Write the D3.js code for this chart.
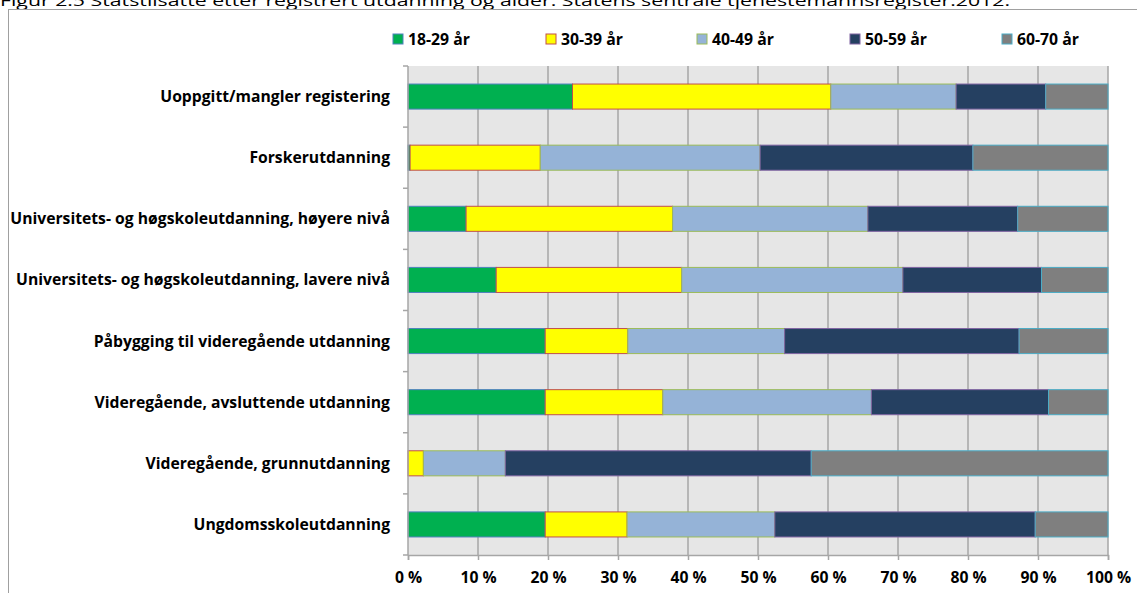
<!DOCTYPE html>
<html><head><meta charset="utf-8">
<script src="https://cdn.jsdelivr.net/npm/d3@7"></script>
<style>
html,body{margin:0;padding:0;background:#fff;overflow:hidden;}
svg{display:block;}
text{font-family:"Open Sans",Lato,sans-serif;}
</style></head>
<body>
<script>
const titleText = "Figur 2.5 Statstilsatte etter registrert utdanning og alder. Statens sentrale tjenestemannsregister.2012.";
const categories = [
  "Uoppgitt/mangler registering",
  "Forskerutdanning",
  "Universitets- og høgskoleutdanning, høyere nivå",
  "Universitets- og høgskoleutdanning, lavere nivå",
  "Påbygging til videregående utdanning",
  "Videregående, avsluttende utdanning",
  "Videregående, grunnutdanning",
  "Ungdomsskoleutdanning"
];
const seriesNames = ["18-29 år", "30-39 år", "40-49 år", "50-59 år", "60-70 år"];
const age18_29 = [23.5, 0.3, 8.3, 12.6, 19.6, 19.6, 0.0, 19.6];
const age30_39 = [36.9, 18.6, 29.5, 26.5, 11.8, 16.8, 2.2, 11.7];
const age40_49 = [17.9, 31.4, 27.9, 31.6, 22.4, 29.8, 11.7, 21.1];
const age50_59 = [12.8, 30.4, 21.4, 19.8, 33.5, 25.3, 43.7, 37.2];
const age60_70 = [8.9, 19.3, 12.9, 9.5, 12.7, 8.5, 42.4, 10.4];
const xTicks = [0, 0.1, 0.2, 0.3, 0.4, 0.5, 0.6, 0.7, 0.8, 0.9, 1.0];

const fills = ["#00b050", "#ffff00", "#95b3d7", "#254061", "#7f7f7f"];
const strokes = ["#4f81bd", "#c0504d", "#9bbb59", "#8064a2", "#4bacc6"];

const W = 1137, H = 593;
const svg = d3.select("body").append("svg").attr("width", W).attr("height", H);

// measure helper to pick a font size that matches the reference text widths
function fitSize(str, target, weight) {
  const m = svg.append("text").attr("font-size", 20).attr("font-weight", weight).text(str);
  const w = m.node().getComputedTextLength();
  m.remove();
  return w > 0 ? 20 * target / w : 14;
}
const labelSize = Math.min(16, fitSize(categories[2], 380, "bold"));
const legendSize = Math.min(16, fitSize(seriesNames[0], 62, "bold"));

// title (clipped at top)
svg.append("text").attr("x", 0).attr("y", 6)
  .attr("font-size", 15).attr("fill", "#000").text(titleText)
  .attr("textLength", 1010).attr("lengthAdjust", "spacingAndGlyphs");

// chart border
svg.append("rect").attr("x", 8.5).attr("y", 9.5).attr("width", W + 10).attr("height", H + 10)
  .attr("fill", "none").attr("stroke", "#a0a0a0").attr("stroke-width", 1);

const rows = categories.map((c, i) => ({
  cat: c,
  [seriesNames[0]]: age18_29[i],
  [seriesNames[1]]: age30_39[i],
  [seriesNames[2]]: age40_49[i],
  [seriesNames[3]]: age50_59[i],
  [seriesNames[4]]: age60_70[i]
}));
const stacked = d3.stack().keys(seriesNames).offset(d3.stackOffsetExpand)(rows);

const pLeft = 408, pRight = 1108, pTop = 66, pBottom = 555;
const x = d3.scaleLinear().domain([0, 1]).range([pLeft, pRight]);
const y = d3.scaleBand().domain(categories).range([pTop, pBottom]).paddingInner(0.59).paddingOuter(0.295);
const yb = d3.scaleBand().domain(categories).range([pTop, pBottom]);

// plot background
svg.append("rect").attr("x", pLeft).attr("y", pTop).attr("width", pRight - pLeft).attr("height", pBottom - pTop)
  .attr("fill", "#e6e6e6");

// gridlines
svg.append("g").selectAll("line").data(xTicks.slice(1)).join("line")
  .attr("x1", d => x(d)).attr("x2", d => x(d)).attr("y1", pTop).attr("y2", pBottom)
  .attr("stroke", "#a6a6a6").attr("stroke-width", 1.5);

// bars
svg.append("g").selectAll("g").data(stacked).join("g")
  .attr("fill", (d, i) => fills[i]).attr("stroke", (d, i) => strokes[i]).attr("stroke-width", 1)
  .selectAll("rect").data(d => d.filter(p => p[1] - p[0] > 0)).join("rect")
  .attr("x", p => x(p[0])).attr("width", p => x(p[1]) - x(p[0]))
  .attr("y", p => y(p.data.cat)).attr("height", y.bandwidth());

// y axis line + ticks
const yAxisG = svg.append("g");
yAxisG.append("line").attr("x1", pLeft).attr("x2", pLeft).attr("y1", pTop).attr("y2", pBottom)
  .attr("stroke", "#a6a6a6").attr("stroke-width", 1.5);
const boundaries = categories.map(c => yb(c)).concat([pBottom]);
yAxisG.selectAll("line.tk").data(boundaries).join("line").attr("class", "tk")
  .attr("x1", pLeft - 5).attr("x2", pLeft).attr("y1", d => d).attr("y2", d => d)
  .attr("stroke", "#a6a6a6").attr("stroke-width", 1.5);
yAxisG.selectAll("text").data(categories).join("text")
  .attr("x", 390).attr("y", d => yb(d) + yb.bandwidth() / 2).attr("dy", "0.35em")
  .attr("text-anchor", "end").attr("font-size", labelSize).attr("font-weight", "bold").attr("fill", "#000")
  .text(d => d);

// x axis
const xAxisG = svg.append("g").attr("transform", `translate(0,${pBottom})`)
  .call(d3.axisBottom(x).tickValues(xTicks).tickSize(5).tickFormat(d => Math.round(d * 100) + " %"));
xAxisG.select(".domain").attr("stroke", "#a6a6a6").attr("stroke-width", 1.5);
xAxisG.selectAll(".tick line").attr("stroke", "#a6a6a6").attr("stroke-width", 1.5);
xAxisG.selectAll(".tick text").attr("font-size", labelSize).attr("font-weight", "bold").attr("fill", "#000")
  .attr("font-family", "'Open Sans', Lato, sans-serif").attr("y", 17).attr("dy", "0.71em");

// legend
const legendX = [393, 546, 697, 850, 1002];
const lg = svg.append("g").selectAll("g").data(seriesNames).join("g")
  .attr("transform", (d, i) => `translate(${legendX[i]},34)`);
lg.append("rect").attr("width", 10).attr("height", 10)
  .attr("fill", (d, i) => fills[i]).attr("stroke", (d, i) => strokes[i]).attr("stroke-width", 1);
lg.append("text").attr("x", 15).attr("y", 5).attr("dy", "0.35em")
  .attr("font-size", legendSize).attr("font-weight", "bold").attr("fill", "#000").text(d => d);
</script>
</body></html>
